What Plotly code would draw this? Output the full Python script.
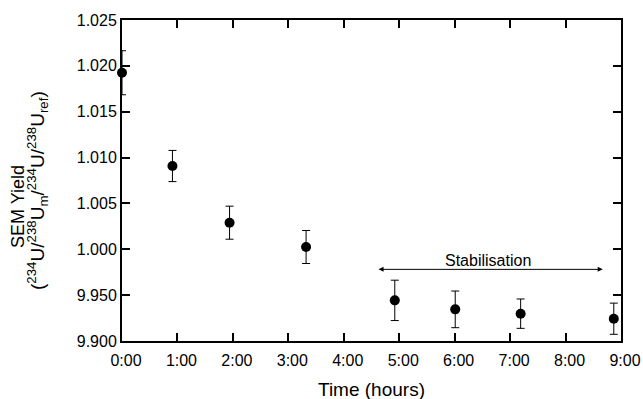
import plotly.graph_objects as go

# Data (hours, yield, error)
time_h = [0.0, 0.91, 1.94, 3.32, 4.92, 6.01, 7.19, 8.87]
yield_vals = [1.01925, 1.00908, 1.0029, 1.00025, 0.99443, 0.99345, 0.99298, 0.99243]
yield_err = [0.0024, 0.0017, 0.0018, 0.0018, 0.0022, 0.0020, 0.0016, 0.0017]

x_tickvals = [0, 1, 2, 3, 4, 5, 6, 7, 8, 9]
x_ticktext = ["0:00", "1:00", "2:00", "3:00", "4:00", "5:00", "6:00", "7:00", "8:00", "9:00"]
y_tickvals = [0.990, 0.995, 1.000, 1.005, 1.010, 1.015, 1.020, 1.025]
y_ticktext = ["9.900", "9.950", "1.000", "1.005", "1.010", "1.015", "1.020", "1.025"]

stab_start, stab_end, stab_y = 4.6, 8.67, 0.99781
stab_label = "Stabilisation"
x_title = "Time (hours)"

FONT = "Liberation Sans, Arial, Helvetica, sans-serif"

L, R, T, B = 122, 22, 20, 58
W, H = 643, 399

fig = go.Figure()
fig.add_trace(go.Scatter(
    x=time_h, y=yield_vals, mode="markers",
    marker=dict(size=10, color="black"),
    error_y=dict(type="data", array=yield_err, visible=True, color="black", thickness=1, width=4),
    cliponaxis=False, showlegend=False,
))

def px_to_paper(px, py):
    return (px - L) / (W - L - R), (H - B - py) / (H - T - B)

annotations = [
    go.layout.Annotation(
        x=stab_end, y=stab_y, ax=stab_start, ay=stab_y, xref="x", yref="y", axref="x", ayref="y",
        text="", showarrow=True, arrowhead=2, startarrowhead=2, arrowside="end+start",
        arrowsize=1, arrowwidth=1, arrowcolor="black",
    ),
    go.layout.Annotation(
        x=(stab_start + stab_end) / 2 - 0.03, y=stab_y, xref="x", yref="y", yshift=9,
        text=stab_label, showarrow=False, font=dict(size=16, color="black", family=FONT),
    ),
]
x1, y1 = px_to_paper(18, 207)
x2, y2 = px_to_paper(38, 191)
x3, y3 = px_to_paper(371, 389)
annotations.append(go.layout.Annotation(
    x=x1, y=y1, xref="paper", yref="paper", text="SEM Yield", showarrow=False, textangle=-90,
    font=dict(size=18, color="black", family=FONT), xanchor="center", yanchor="middle",
))
annotations.append(go.layout.Annotation(
    x=x2, y=y2, xref="paper", yref="paper",
    text="(<sup>234</sup>U/<sup>238</sup>U<sub>m</sub>/<sup>234</sup>U/<sup>238</sup>U<sub>ref</sub>)",
    showarrow=False, textangle=-90,
    font=dict(size=19, color="black", family=FONT), xanchor="center", yanchor="middle",
))
annotations.append(go.layout.Annotation(
    x=x3, y=y3, xref="paper", yref="paper", text=x_title, showarrow=False,
    font=dict(size=19, color="black", family=FONT), xanchor="center", yanchor="middle",
))

fig.update_layout(
    width=W, height=H,
    margin=dict(l=L, r=R, t=T, b=B),
    paper_bgcolor="white", plot_bgcolor="white",
    font=dict(family=FONT, color="black", size=16),
    annotations=annotations,
    xaxis=dict(
        range=[0, 9], tickvals=x_tickvals, ticktext=x_ticktext,
        ticks="inside", ticklen=8, tickwidth=1.5, tickcolor="black",
        showline=True, linewidth=2, linecolor="black", mirror="ticks",
        showgrid=False, zeroline=False, automargin=False,
        tickfont=dict(size=16), ticklabelshift=4, ticklabelstandoff=4,
    ),
    yaxis=dict(
        range=[0.990, 1.025], tickvals=y_tickvals, ticktext=y_ticktext,
        ticks="inside", ticklen=8, tickwidth=1.5, tickcolor="black",
        showline=True, linewidth=2, linecolor="black", mirror="ticks",
        showgrid=False, zeroline=False, automargin=False,
        tickfont=dict(size=16),
    ),
)

fig.write_html("out.html")
